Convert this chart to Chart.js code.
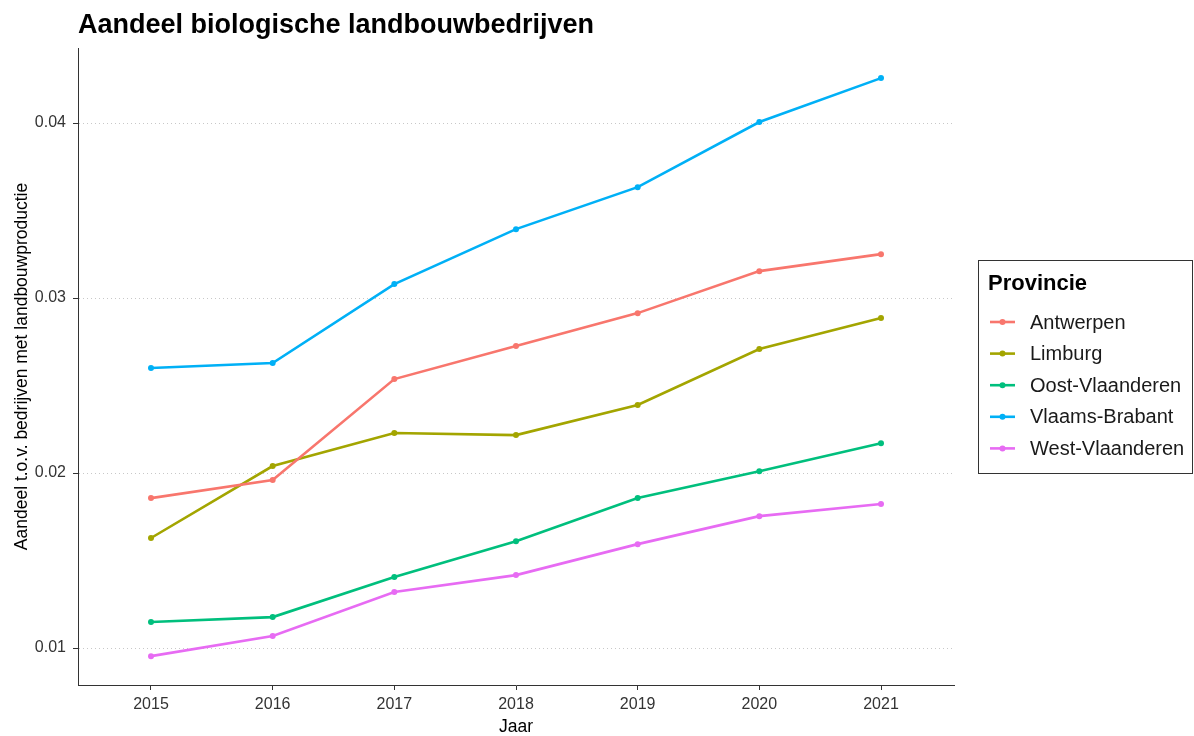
<!DOCTYPE html>
<html>
<head>
<meta charset="utf-8">
<script src="https://cdn.jsdelivr.net/npm/chart.js@4/dist/chart.umd.min.js"></script>
<style>
  html, body { margin: 0; padding: 0; background: #fff; }
  #wrap { width: 1194px; height: 736px; }
</style>
</head>
<body>
<div id="wrap"><canvas id="chart" width="1194" height="736"></canvas></div>
<script>
// data
const years = [2015, 2016, 2017, 2018, 2019, 2020, 2021];
const yTicks = [0.01, 0.02, 0.03, 0.04];
const provinces = ['Antwerpen', 'Limburg', 'Oost-Vlaanderen', 'Vlaams-Brabant', 'West-Vlaanderen'];
const antwerpen = [0.01857, 0.0196, 0.02537, 0.02726, 0.02914, 0.03154, 0.03251];
const limburg = [0.01629, 0.0204, 0.02229, 0.02217, 0.02389, 0.02709, 0.02886];
const oostVlaanderen = [0.01149, 0.01177, 0.01406, 0.01611, 0.01857, 0.02011, 0.02171];
const vlaamsBrabant = [0.026, 0.02629, 0.0308, 0.03394, 0.03634, 0.04006, 0.04257];
const westVlaanderen = [0.00954, 0.01069, 0.0132, 0.01417, 0.01594, 0.01754, 0.01823];

const colors = ['#F8766D', '#A3A500', '#00BF7D', '#00B0F6', '#E76BF3'];
const series = [antwerpen, limburg, oostVlaanderen, vlaamsBrabant, westVlaanderen];

const FONT = "'Liberation Sans', Arial, sans-serif";

let datasets = provinces.map((name, i) => ({
    label: name,
    data: years.map((y, j) => ({ x: y, y: series[i][j] })),
    borderColor: colors[i],
    backgroundColor: colors[i],
    borderWidth: 2.6,
    pointRadius: 3,
    pointBorderWidth: 0,
    pointHoverRadius: 3,
    tension: 0
}));

// title and boxed legend like ggplot
const extras = {
    id: 'extras',
    afterDraw(chart) {
        const ctx = chart.ctx;
        ctx.save();
        ctx.fillStyle = '#000';
        ctx.font = 'bold 27px ' + FONT;
        ctx.textBaseline = 'alphabetic';
        ctx.textAlign = 'left';
        ctx.fillText('Aandeel biologische landbouwbedrijven', chart.chartArea.left, 33);

        // legend
        const bx = 978.5, by = 260.5, bw = 214, bh = 213;
        ctx.strokeStyle = '#333';
        ctx.lineWidth = 1;
        ctx.strokeRect(bx, by, bw, bh);
        ctx.font = 'bold 22px ' + FONT;
        ctx.textBaseline = 'middle';
        ctx.fillText('Provincie', 988, 284);
        ctx.font = '20px ' + FONT;
        chart.data.datasets.forEach((ds, i) => {
            const y = 322 + i * 31.6;
            ctx.strokeStyle = ds.borderColor;
            ctx.lineWidth = 2.6;
            ctx.beginPath();
            ctx.moveTo(990, y);
            ctx.lineTo(1015, y);
            ctx.stroke();
            ctx.fillStyle = ds.borderColor;
            ctx.beginPath();
            ctx.arc(1002.5, y, 3, 0, Math.PI * 2);
            ctx.fill();
            ctx.fillStyle = '#1a1a1a';
            ctx.fillText(ds.label, 1030, y + 1);
        });
        ctx.restore();
    }
};

let ctx = document.getElementById('chart').getContext('2d');
var myChart = new Chart(ctx, {
    type: 'line',
    data: { datasets: datasets },
    plugins: [extras],
    options: {
        responsive: false,
        animation: false,
        layout: { padding: { top: 48, right: 240, left: 0, bottom: 0 } },
        plugins: {
            legend: { display: false },
            tooltip: { enabled: false }
        },
        scales: {
            x: {
                type: 'linear',
                min: 2014.4,
                max: 2021.6,
                afterBuildTicks: s => { s.ticks = years.map(v => ({ value: v })); },
                afterFit: s => { s.height = 51; },
                ticks: {
                    callback: v => String(v),
                    color: '#333',
                    font: { family: FONT, size: 16 },
                    padding: 5,
                    maxRotation: 0,
                    autoSkip: false
                },
                grid: {
                    drawOnChartArea: false,
                    drawTicks: true,
                    tickLength: 5,
                    tickColor: '#333',
                    tickWidth: 1
                },
                border: { display: true, color: '#333', width: 1 },
                title: {
                    display: true,
                    text: 'Jaar',
                    color: '#000',
                    font: { family: FONT, size: 17.5, lineHeight: 1 },
                    padding: { top: 0, bottom: 0 }
                }
            },
            y: {
                min: 0.00789,
                max: 0.04429,
                afterBuildTicks: s => { s.ticks = yTicks.map(v => ({ value: v })); },
                afterFit: s => { s.width = 78; },
                ticks: {
                    callback: v => v.toFixed(2),
                    color: '#333',
                    font: { family: FONT, size: 16 },
                    padding: 7
                },
                grid: {
                    color: '#c8c8c8',
                    lineWidth: 1,
                    drawTicks: true,
                    tickLength: 5,
                    tickColor: '#333',
                    tickWidth: 1
                },
                border: { display: true, color: '#333', width: 1, dash: [1, 3] },
                title: {
                    display: true,
                    text: 'Aandeel t.o.v. bedrijven met landbouwproductie',
                    color: '#000',
                    font: { family: FONT, size: 17.5 },
                    padding: { top: 12, bottom: 0 }
                }
            }
        }
    }
});
</script>
</body>
</html>
